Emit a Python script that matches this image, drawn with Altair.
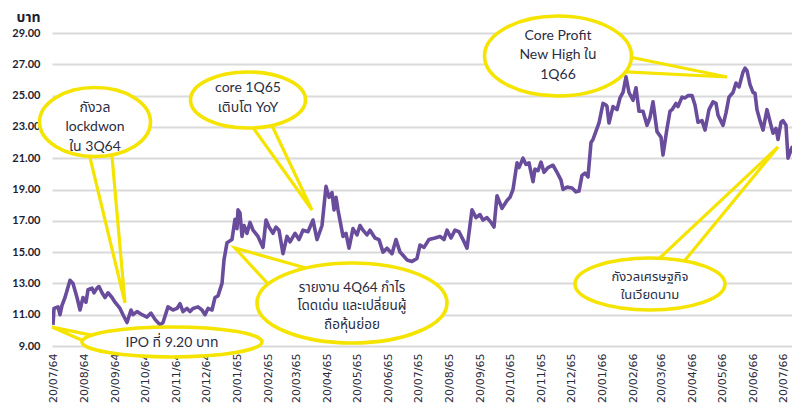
import altair as alt
import pandas as pd

IPO_DATE = "2021-07-20"

# Closing price (baht), x given as days after the IPO date (20/07/64)
price_day = [0, 1, 5, 7, 9, 12, 17, 20, 24, 27, 30, 33, 35, 39, 41, 44, 46, 49, 52, 55,
             59, 62, 67, 70, 74, 78, 80, 84, 89, 94, 98, 102, 107, 110, 115, 120, 124, 127, 130, 134,
             137, 140, 145, 149, 152, 155, 159, 162, 165, 169, 171, 174, 179, 182, 184, 185, 187, 189, 191, 194,
             197, 200, 205, 210, 213, 216, 220, 223, 226, 230, 234, 237, 242, 246, 250, 255, 260, 264, 269, 273,
             276, 279, 281, 283, 285, 290, 293, 296, 300, 304, 307, 310, 314, 317, 322, 326, 330, 334, 339, 343,
             347, 350, 354, 359, 364, 367, 371, 376, 382, 387, 391, 394, 398, 402, 406, 410, 414, 419, 423, 427,
             430, 434, 438, 441, 444, 449, 454, 457, 460, 464, 466, 470, 473, 476, 480, 482, 485, 488, 491, 495,
             500, 504, 508, 510, 514, 519, 523, 526, 529, 532, 535, 538, 540, 544, 546, 550, 553, 554, 556, 560,
             564, 567, 570, 573, 576, 580, 583, 586, 590, 594, 597, 600, 604, 608, 610, 614, 617, 619, 623, 625,
             629, 632, 635, 639, 642, 645, 649, 652, 656, 660, 663, 665, 670, 673, 676, 680, 683, 686, 690, 692,
             694, 697, 700, 702, 704, 707, 710, 714, 718, 720, 723, 725, 728, 730, 733, 735, 739, 741, 744, 747]
price_close = [10.35, 11.4, 11.5, 11.0, 11.6, 12.1, 13.2, 13.0, 12.1, 11.3, 12.1, 11.8, 12.6, 12.7, 12.4, 12.7, 12.8, 12.4, 12.1, 12.4,
               12.1, 11.8, 11.4, 11.0, 10.5, 11.3, 11.0, 11.2, 11.0, 10.85, 11.1, 10.7, 10.35, 10.5, 11.5, 11.3, 11.4, 11.7, 11.2, 11.4,
               11.2, 11.4, 11.5, 11.3, 11.0, 11.4, 11.3, 12.1, 12.2, 13.0, 14.5, 15.6, 15.8, 17.1, 16.5, 17.7, 17.5, 16.0, 16.7, 16.2,
               16.9, 16.4, 16.0, 15.3, 17.05, 16.6, 16.2, 16.6, 16.4, 14.9, 16.0, 15.65, 16.2, 15.8, 16.4, 16.3, 17.05, 15.8, 16.7, 19.2,
               18.5, 18.8, 17.7, 18.5, 17.7, 16.0, 16.2, 15.25, 16.5, 16.1, 16.7, 16.4, 16.1, 16.4, 15.9, 15.8, 15.0, 15.25, 14.9, 15.8,
               15.0, 14.8, 14.5, 14.4, 14.6, 15.45, 15.3, 15.8, 15.9, 16.0, 15.8, 16.4, 15.9, 16.4, 16.3, 15.8, 15.25, 17.7, 17.2, 17.4,
               17.05, 17.2, 16.9, 16.6, 18.6, 17.8, 18.3, 18.5, 19.0, 20.7, 20.4, 21.0, 20.6, 20.7, 19.5, 20.3, 20.2, 20.75, 20.1, 20.4,
               20.55, 20.1, 19.6, 19.0, 19.15, 19.1, 18.85, 18.9, 19.9, 20.05, 19.8, 22.0, 22.2, 22.9, 23.25, 24.5, 24.4, 24.3, 23.25, 24.3,
               24.1, 24.85, 25.2, 26.2, 25.2, 24.7, 25.5, 24.0, 24.0, 23.1, 23.6, 24.6, 22.7, 22.35, 21.2, 22.9, 24.0, 24.1, 24.5, 24.3,
               24.9, 24.85, 25.0, 25.0, 24.4, 23.3, 23.4, 22.8, 24.1, 24.6, 24.5, 23.75, 23.1, 23.9, 24.9, 25.2, 25.8, 25.55, 26.5, 26.75,
               26.6, 25.7, 25.2, 25.15, 24.1, 23.4, 22.8, 24.1, 23.1, 22.6, 22.9, 22.2, 23.3, 23.4, 23.1, 21.0, 21.7, 21.7, 21.3, 20.9]

# x-axis ticks (20th of each month) and visible date range
tick_dates = ["2021-07-20", "2021-08-20", "2021-09-20", "2021-10-20", "2021-11-20", "2021-12-20",
              "2022-01-20", "2022-02-20", "2022-03-20", "2022-04-20", "2022-05-20", "2022-06-20",
              "2022-07-20", "2022-08-20", "2022-09-20", "2022-10-20", "2022-11-20", "2022-12-20",
              "2023-01-20", "2023-02-20", "2023-03-20", "2023-04-20", "2023-05-20", "2023-06-20", "2023-07-20"]
x_range = ["2021-07-19", "2023-07-29"]
y_ticks = [9, 11, 13, 15, 17, 19, 21, 23, 25, 27, 29]

# Call-out annotations (anchored in data space: day offset, price)
callout_lines = [
    ["กังวล", "lockdwon", "ใน 3Q64"],
    ["core 1Q65", "เติบโต YoY"],
    ["Core Profit", "New High ใน", "1Q66"],
    ["รายงาน 4Q64 กำไร", "โดดเด่น และเปลี่ยนผู้", "ถือหุ้นย่อย"],
    ["IPO ที่ 9.20 บาท"],
    ["กังวลเศรษฐกิจ", "ในเวียดนาม"],
]
callout_day = [42, 195, 505, 299, 119, 597]
callout_value = [23.31, 24.72, 27.53, 11.75, 9.26, 12.96]
callout_text_day = [42, 195, 505, 299, 119, 597]
callout_text_value = [24.21, 25.49, 28.81, 12.71, 9.19, 13.41]  # first line of each call-out
# tail: base1, tip, base2  (day, price)
tail_day = [[34, 72, 58], [191, 259, 214], [562, 674, 559], [267, 182, 227], [47, -1, 42], [594, 725, 624]]
tail_value = [[21.84, 11.75, 21.84], [23.76, 17.69, 23.76], [27.66, 26.19, 26.57],
              [13.73, 15.26, 12.13], [9.58, 10.21, 9.0], [13.86, 21.72, 13.86]]

# ---- styles ----
ellipse_px = [(111, 69), (115, 56), (147, 80), (190, 80), (180, 30), (150, 52)]
callout_font = [14, 14, 14, 13.5, 14, 13]
callout_lh = [19.5, 20, 19.5, 18.5, 19, 18]
PURPLE = "#6A4C9C"
YELLOW = "#F5E400"
TEXT = "#2b2d42"
FONT = "Lato, 'Noto Sans Thai', 'Noto Sans', sans-serif"

base = pd.Timestamp(IPO_DATE)


def to_date(days):
    return [(base + pd.Timedelta(days=int(d))).strftime("%Y-%m-%d") for d in days]


def ms(s):
    return int(pd.Timestamp(s, tz="UTC").value // 10**6)


x_enc = alt.X(
    "date:T",
    scale=alt.Scale(type="utc", domain=[ms(x_range[0]), ms(x_range[1])], nice=False),
    axis=alt.Axis(
        title=None, values=[ms(d) for d in tick_dates], grid=False, domain=False, ticks=False,
        labelAngle=-90, labelPadding=7, labelFont="DejaVu Sans", labelFontSize=11,
        labelColor="#2a2a3a",
        labelExpr="utcFormat(datum.value, '%d/%m/') + format((utcyear(datum.value) + 543) % 100, '02d')",
    ),
)
y_enc = alt.Y(
    "value:Q",
    scale=alt.Scale(domain=[9, 29], nice=False, zero=False),
    axis=alt.Axis(
        title="บาท", values=y_ticks, format=".2f", grid=True, gridColor="#dadada", gridWidth=2,
        domain=False, ticks=False, labelPadding=12, labelFont="Lato", labelFontSize=11,
        labelFontWeight="bold", labelColor="#1d1d33",
        titleAngle=0, titleAlign="right", titleBaseline="middle", titleX=-12, titleY=-16,
        titleFont=FONT, titleFontSize=14, titleFontWeight="bold", titleColor="#1d1d33",
    ),
)

price_df = pd.DataFrame({"date": to_date(price_day), "value": price_close})
line = alt.Chart(price_df).mark_line(color=PURPLE, strokeWidth=3.6, clip=True, strokeJoin="round").encode(
    x=x_enc, y=y_enc)

tail_rows = []
for i, (ds, vs) in enumerate(zip(tail_day, tail_value)):
    for j, (d, v) in enumerate(zip(ds, vs)):
        tail_rows.append({"id": i, "seq": j, "date": to_date([d])[0], "value": v})
tails = alt.Chart(pd.DataFrame(tail_rows)).mark_line(color=YELLOW, strokeWidth=3.2, strokeJoin="miter").encode(
    x=x_enc, y=y_enc, detail="id:N", order="seq:Q")

layers = [line, tails]
for i in range(len(callout_lines)):
    w, h = ellipse_px[i]
    r = h / w
    path = f"M-1,0A1,{r:.4f} 0 1,1 1,0A1,{r:.4f} 0 1,1 -1,0Z"
    edf = pd.DataFrame({"date": to_date([callout_day[i]]), "value": [callout_value[i]]})
    layers.append(
        alt.Chart(edf).mark_point(shape=path, size=w * w, filled=True, fill="white", stroke=YELLOW,
                                  strokeWidth=3.6, opacity=1, fillOpacity=1, strokeOpacity=1)
        .encode(x=x_enc, y=y_enc)
    )

for i in range(len(callout_lines)):
    tdf = pd.DataFrame({"date": to_date([callout_text_day[i]]), "value": [callout_text_value[i]],
                        "label": ["\n".join(callout_lines[i])]})
    layers.append(
        alt.Chart(tdf).mark_text(font=FONT, fontSize=callout_font[i], color=TEXT, align="center",
                                 baseline="middle", lineBreak="\n", lineHeight=callout_lh[i])
        .encode(x=x_enc, y=y_enc, text="label:N")
    )

chart = alt.layer(*layers).properties(
    width=740, height=313,
    padding={"left": 44, "top": 25, "right": 0, "bottom": 60},
    autosize=alt.AutoSizeParams(type="none"),
    background="white",
).configure_view(stroke=None)

chart.save("out.html", embed_options={"renderer": "svg", "actions": False})
